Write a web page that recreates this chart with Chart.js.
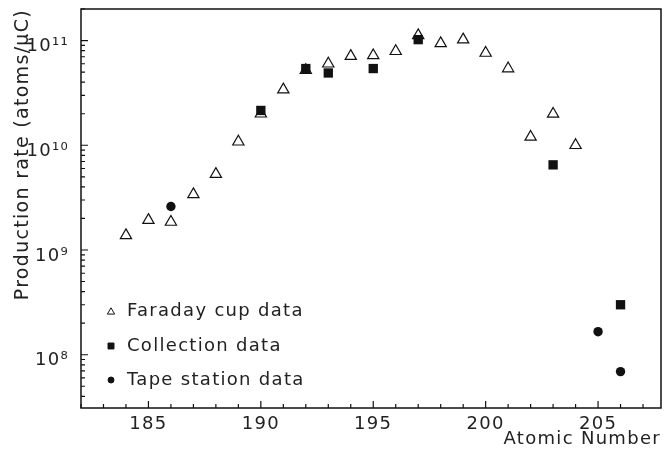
<!DOCTYPE html>
<html>
<head>
<meta charset="utf-8">
<script src="https://cdn.jsdelivr.net/npm/chart.js@4.4.1/dist/chart.umd.min.js"></script>
<style>
html, body { margin: 0; padding: 0; background: #fff; }
#wrap { width: 666px; height: 450px; }
</style>
</head>
<body>
<div id="wrap"><canvas id="rateChart"></canvas></div>
<script>
// production rate (atoms/uC) vs atomic number
const faradayZ = [184,185,186,187,188,189,190,191,192,193,194,195,196,197,198,199,200,201,202,203,204];
const faradayRate = [1.38e9,1.93e9,1.85e9,3.4e9,5.3e9,1.08e10,2.0e10,3.4e10,5.2e10,6.0e10,7.1e10,7.2e10,7.9e10,1.12e11,9.4e10,1.02e11,7.6e10,5.4e10,1.2e10,1.99e10,1.0e10];

const collectionZ = [190,192,193,195,197,203,206];
const collectionRate = [2.15e10,5.4e10,4.9e10,5.4e10,1.02e11,6.5e9,3.0e8];

const tapeZ = [186,205,206];
const tapeRate = [2.6e9,1.66e8,6.9e7];

const xTicks = [185,190,195,200,205];
const yTicks = [1e8,1e9,1e10,1e11];
const seriesNames = ["Faraday cup data","Collection data","Tape station data"];

const FONT = "'DejaVu Sans', sans-serif";
const INK = "#222";

const sup = {"0":"\u2070","1":"\u00b9","2":"\u00b2","3":"\u00b3","4":"\u2074","5":"\u2075","6":"\u2076","7":"\u2077","8":"\u2078","9":"\u2079"};
function powLabel(v) {
    const e = String(Math.round(Math.log10(v)));
    return "10" + e.split("").map(c => sup[c]).join("");
}

function pts(xs, ys) {
    return xs.map((x, i) => ({x: x, y: ys[i]}));
}

// inward ticks + closed frame, like the original plot
const framePlugin = {
    id: "frame",
    beforeDraw(chart) {
        // the original lettering is wide, spread it a bit
        chart.ctx.letterSpacing = "1.3px";
    },
    beforeDatasetsDraw(chart) {
        const {ctx, chartArea: a, scales: {x, y}} = chart;
        ctx.save();
        ctx.strokeStyle = "#111";
        ctx.lineWidth = 1.2;
        ctx.beginPath();
        for (let z = Math.ceil(x.min); z <= x.max; z++) {
            const px = x.getPixelForValue(z);
            const len = z % 5 === 0 ? 7 : 4;
            ctx.moveTo(px, a.bottom);
            ctx.lineTo(px, a.bottom - len);
        }
        for (let e = 7; e <= 11; e++) {
            for (let m = 1; m <= 9; m++) {
                const v = m * Math.pow(10, e);
                if (v < y.min || v > y.max) continue;
                const py = y.getPixelForValue(v);
                const len = m === 1 ? 7 : 4;
                ctx.moveTo(a.left, py);
                ctx.lineTo(a.left + len, py);
            }
        }
        ctx.stroke();
        ctx.lineWidth = 1.5;
        ctx.strokeRect(a.left, a.top, a.right - a.left, a.bottom - a.top);
        ctx.restore();
    },
    afterDraw(chart) {
        // legend inside the plot, lower left
        const {ctx, chartArea: a} = chart;
        const rows = [a.bottom - 97, a.bottom - 62, a.bottom - 28];
        ctx.save();
        chart.data.datasets.forEach((ds, i) => {
            const mx = a.left + 30;
            ctx.strokeStyle = "#111";
            ctx.fillStyle = ds.pointBackgroundColor;
            ctx.lineWidth = 1;
            Chart.helpers.drawPoint(ctx, {pointStyle: ds.pointStyle, radius: ds.pointStyle === "circle" ? 3 : 4.2, borderWidth: 1}, mx, rows[i] + (ds.pointStyle === "triangle" ? 1 : 0));
            ctx.fillStyle = INK;
            ctx.font = "18px " + FONT;
            ctx.textBaseline = "middle";
            ctx.textAlign = "left";
            ctx.fillText(seriesNames[i], a.left + 46, rows[i]);
        });
        ctx.restore();
    }
};

new Chart(document.getElementById("rateChart"), {
    type: "scatter",
    data: {
        datasets: [
            {
                label: seriesNames[0],
                data: pts(faradayZ, faradayRate),
                pointStyle: "triangle",
                pointRadius: 6.5,
                pointBorderWidth: 1.2,
                pointBorderColor: "#111",
                pointBackgroundColor: "#fff",
                order: 3
            },
            {
                label: seriesNames[1],
                data: pts(collectionZ, collectionRate),
                pointStyle: "rect",
                pointRadius: 6.6,
                pointBorderWidth: 0,
                pointBorderColor: "#111",
                pointBackgroundColor: "#111",
                order: 1
            },
            {
                label: seriesNames[2],
                data: pts(tapeZ, tapeRate),
                pointStyle: "circle",
                pointRadius: 4.7,
                pointBorderWidth: 0,
                pointBorderColor: "#111",
                pointBackgroundColor: "#111",
                order: 2
            }
        ]
    },
    options: {
        responsive: true,
        maintainAspectRatio: false,
        animation: false,
        layout: {autoPadding: false, padding: {top: 9, right: 5, left: 0, bottom: 0}},
        plugins: {
            legend: {display: false},
            tooltip: {enabled: false}
        },
        scales: {
            x: {
                type: "linear",
                min: 182,
                max: 207.8,
                grid: {display: false, drawTicks: false},
                border: {display: false},
                afterBuildTicks: s => { s.ticks = xTicks.map(v => ({value: v})); },
                afterFit: s => { s.height = 42; s.paddingLeft = 0; s.paddingRight = 0; },
                ticks: {
                    color: INK,
                    padding: 6,
                    maxRotation: 0,
                    font: {family: FONT, size: 18},
                    callback: v => String(v)
                },
                title: {
                    display: true,
                    text: "Atomic Number",
                    align: "end",
                    color: INK,
                    padding: {top: 0, bottom: 0},
                    font: {family: FONT, size: 18}
                }
            },
            y: {
                type: "logarithmic",
                min: 3.1e7,
                max: 2e11,
                grid: {display: false, drawTicks: false},
                border: {display: false},
                afterBuildTicks: s => { s.ticks = yTicks.map(v => ({value: v})); },
                afterFit: s => { s.width = 81; s.paddingTop = 0; s.paddingBottom = 0; },
                ticks: {
                    color: INK,
                    padding: 12,
                    labelOffset: 6,
                    font: {family: FONT, size: 18},
                    callback: v => powLabel(v)
                },
                title: {
                    display: true,
                    text: "Production rate (atoms/\u03bcC)",
                    align: "end",
                    color: INK,
                    padding: {top: 12, bottom: 0},
                    font: {family: FONT, size: 19}
                }
            }
        }
    },
    plugins: [framePlugin]
});
</script>
</body>
</html>
